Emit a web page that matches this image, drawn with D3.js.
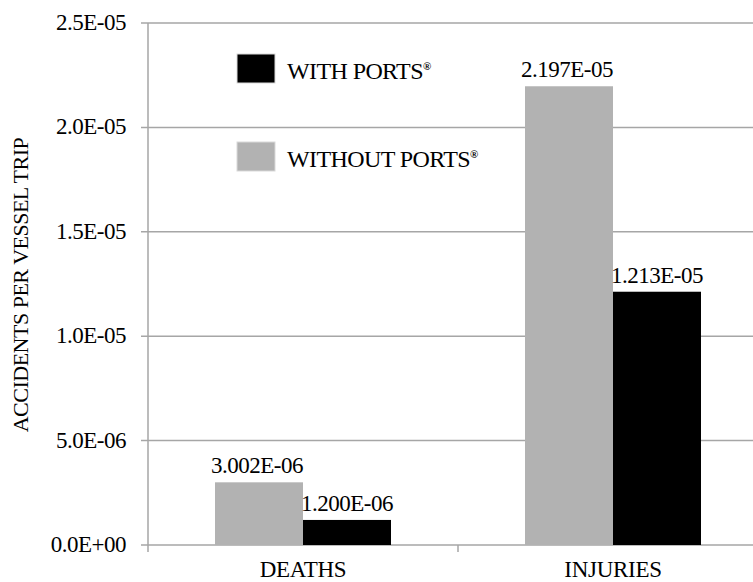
<!DOCTYPE html>
<html><head><meta charset="utf-8">
<script src="https://cdn.jsdelivr.net/npm/d3@7"></script>
<style>body{margin:0;background:#fff}svg{display:block}svg text{font-family:"Liberation Serif","Times New Roman",serif}</style>
</head><body><svg id="c" width="753" height="582"></svg>
<script>
const categories = ["DEATHS", "INJURIES"];
const withoutPorts = [3.002e-6, 2.197e-5];
const withPorts = [1.200e-6, 1.213e-5];
const labelsWithout = ["3.002E-06", "2.197E-05"];
const labelsWith = ["1.200E-06", "1.213E-05"];
const yTicks = [0, 5e-6, 1e-5, 1.5e-5, 2e-5, 2.5e-5];
const yTickLabels = ["0.0E+00", "5.0E-06", "1.0E-05", "1.5E-05", "2.0E-05", "2.5E-05"];
const seriesNames = ["WITH PORTS", "WITHOUT PORTS"];

(function () {
const svg = d3.select("#c");
const mLeft = 148, mRight = 768, mTop = 23, mBottom = 545;
const x = d3.scaleBand().domain(categories).range([mLeft, mRight]);
const y = d3.scaleLinear().domain([0, 2.5e-5]).range([mBottom, mTop]);
const barW = 88;
const gridColor = "#a6a6a6";

svg.append("g").selectAll("line").data(yTicks).join("line")
  .attr("x1", mLeft - 7).attr("x2", 753)
  .attr("y1", d => y(d)).attr("y2", d => y(d))
  .attr("stroke", gridColor).attr("stroke-width", 1.5);

svg.append("line").attr("x1", mLeft).attr("x2", mLeft).attr("y1", mTop).attr("y2", mBottom + 7)
  .attr("stroke", gridColor).attr("stroke-width", 1.5);
svg.append("g").selectAll("line").data(categories.slice(1)).join("line")
  .attr("x1", d => x(d)).attr("x2", d => x(d)).attr("y1", mBottom).attr("y2", mBottom + 7)
  .attr("stroke", gridColor).attr("stroke-width", 1.5);

svg.append("g").selectAll("text").data(yTicks).join("text")
  .attr("x", mLeft - 22).attr("y", d => y(d) + 7)
  .attr("text-anchor", "end").attr("font-size", 23).attr("letter-spacing", -0.5)
  .text((d, i) => yTickLabels[i]);

const cx = c => x(c) + x.bandwidth() / 2;
svg.append("g").selectAll("rect").data(categories).join("rect")
  .attr("x", d => cx(d) - barW).attr("width", barW)
  .attr("y", (d, i) => y(withoutPorts[i])).attr("height", (d, i) => mBottom - y(withoutPorts[i]))
  .attr("fill", "#b2b2b2");
svg.append("g").selectAll("rect").data(categories).join("rect")
  .attr("x", d => cx(d)).attr("width", barW)
  .attr("y", (d, i) => y(withPorts[i])).attr("height", (d, i) => mBottom - y(withPorts[i]))
  .attr("fill", "#000");

svg.append("g").selectAll("text").data(categories).join("text")
  .attr("x", d => cx(d) - barW / 2 - 2).attr("y", (d, i) => y(withoutPorts[i]) - 9)
  .attr("text-anchor", "middle").attr("font-size", 23).attr("letter-spacing", -0.5)
  .text((d, i) => labelsWithout[i]);
svg.append("g").selectAll("text").data(categories).join("text")
  .attr("x", d => cx(d) + barW / 2).attr("y", (d, i) => y(withPorts[i]) - 9)
  .attr("text-anchor", "middle").attr("font-size", 23).attr("letter-spacing", -0.5)
  .text((d, i) => labelsWith[i]);

svg.append("g").selectAll("text").data(categories).join("text")
  .attr("x", d => cx(d)).attr("y", 577)
  .attr("text-anchor", "middle").attr("font-size", 23).attr("letter-spacing", -0.3)
  .text(d => d);

svg.append("text").attr("transform", "translate(28,285) rotate(-90)")
  .attr("text-anchor", "middle").attr("font-size", 22).attr("letter-spacing", -0.5)
  .text("ACCIDENTS PER VESSEL TRIP");

const legendColors = ["#000", "#b2b2b2"];
const lg = svg.append("g").selectAll("g").data(seriesNames).join("g")
  .attr("transform", (d, i) => `translate(237,${54 + i * 88})`);
lg.append("rect").attr("width", 38).attr("height", 29)
  .attr("fill", (d, i) => legendColors[i]).attr("stroke", "#d9d9d9").attr("stroke-width", 1);
const lt = lg.append("text").attr("x", 50).attr("y", 25).attr("font-size", 24).attr("letter-spacing", -0.6);
lt.append("tspan").text(d => d);
lt.append("tspan").attr("dy", -9).attr("font-size", 11).attr("font-weight", "bold").text("®");
})();
</script></body></html>
